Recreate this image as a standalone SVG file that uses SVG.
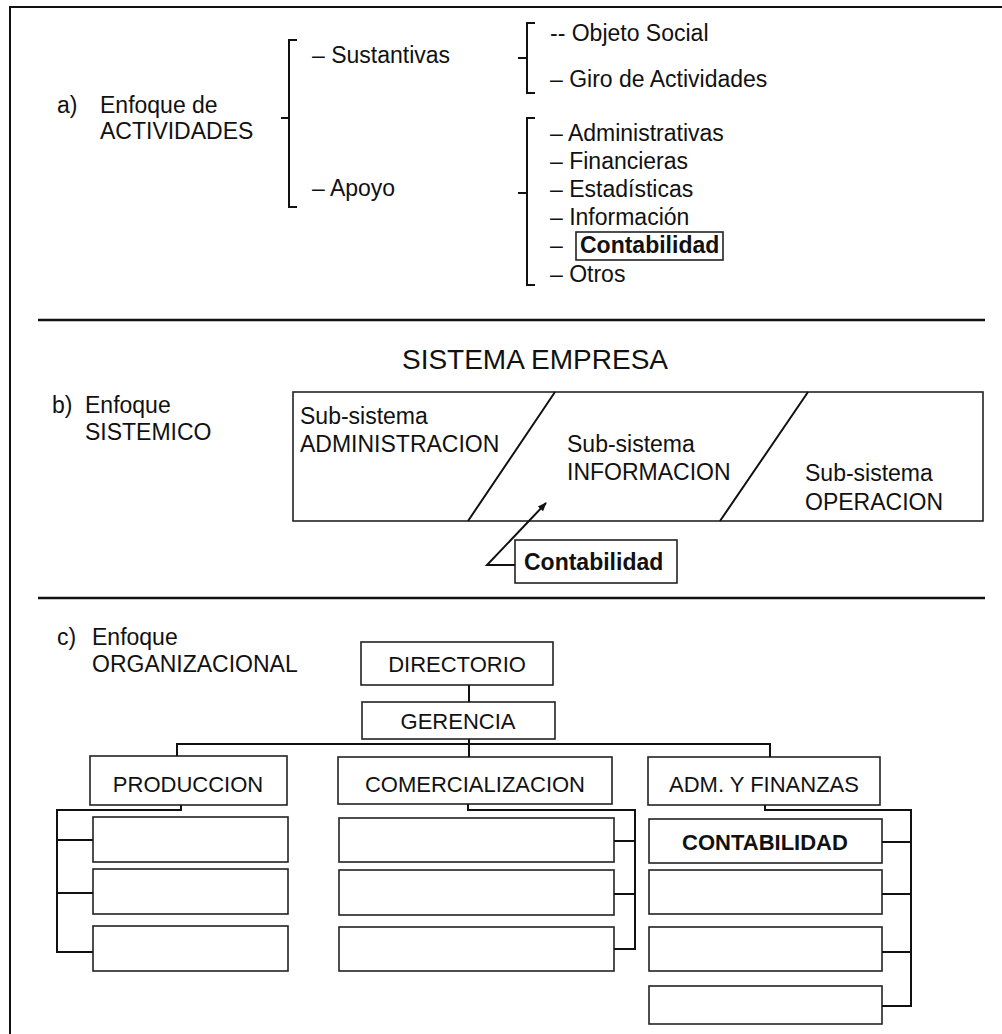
<svg xmlns="http://www.w3.org/2000/svg" width="1002" height="1034" viewBox="0 0 1002 1034">
<style>
text{font-family:"Liberation Sans",Arial,Helvetica,sans-serif;font-size:23px;fill:#111}
.b{font-weight:bold}
.big{font-size:28px}
.c{font-size:22px}
.box{fill:#fff;stroke:#222;stroke-width:1.6}
.ln{fill:none;stroke:#111;stroke-width:2}
.sep{fill:none;stroke:#111;stroke-width:2.6}
</style>
<defs>
<marker id="ah" viewBox="0 0 10 10" refX="9" refY="5" markerWidth="9" markerHeight="9" orient="auto" markerUnits="userSpaceOnUse"><path d="M0,1 L10,5 L0,9 Z" fill="#111"/></marker>
</defs>
<rect width="1002" height="1034" fill="#fff"/>
<g id="frame">
<path class="ln" d="M10,1034 V7 H1002" stroke-width="1.5"/>
<path class="sep" d="M38,320 H985"/>
<path class="sep" d="M38,598 H985"/>
</g>

<g id="section-a">
<text x="57" y="113">a)</text>
<text x="100" y="113">Enfoque de</text>
<text x="100" y="139">ACTIVIDADES</text>
</g>
<g id="node-sustantivas"><text x="312" y="63">– Sustantivas</text></g>
<g id="node-apoyo"><text x="312" y="196">– Apoyo</text></g>
<g id="node-objeto"><text x="550" y="41">-- Objeto Social</text></g>
<g id="node-giro"><text x="550" y="87">– Giro de Actividades</text></g>
<g id="node-admin"><text x="550" y="141">– Administrativas</text></g>
<g id="node-fin"><text x="550" y="169">– Financieras</text></g>
<g id="node-est"><text x="550" y="197">– Estadísticas</text></g>
<g id="node-info"><text x="550" y="225">– Información</text></g>
<g id="node-conta-a"><text x="550" y="253">–</text><rect class="box" x="576" y="232" width="147" height="28"/><text class="b" x="580" y="253" font-size="22">Contabilidad</text></g>
<g id="node-otros"><text x="550" y="282">– Otros</text></g>

<g id="section-b">
<text class="big" x="535" y="369" text-anchor="middle">SISTEMA EMPRESA</text>
<text x="52" y="413">b)</text>
<text x="85" y="413">Enfoque</text>
<text x="85" y="440">SISTEMICO</text>
</g>
<g id="node-sistema">
<rect class="box" x="293" y="392" width="690" height="129"/>
<path class="ln" d="M468,521 L555,392 M720,521 L808,392" stroke-width="1.6"/>
<text x="300" y="424">Sub-sistema</text>
<text x="300" y="452">ADMINISTRACION</text>
<text x="567" y="452">Sub-sistema</text>
<text x="567" y="480">INFORMACION</text>
<text x="805" y="481">Sub-sistema</text>
<text x="805" y="510">OPERACION</text>
</g>
<g id="node-conta-b"><rect class="box" x="515" y="540" width="162" height="43"/><text class="b" x="524" y="570">Contabilidad</text></g>

<g id="section-c">
<text x="57" y="645">c)</text>
<text x="92" y="645">Enfoque</text>
<text x="92" y="672" font-size="22.5">ORGANIZACIONAL</text>
</g>
<g id="node-directorio"><rect class="box" x="361" y="642" width="192" height="43"/><text class="c" x="457" y="672" text-anchor="middle">DIRECTORIO</text></g>
<g id="node-gerencia"><rect class="box" x="362" y="702" width="193" height="37"/><text class="c" x="458" y="729" text-anchor="middle">GERENCIA</text></g>
<g id="node-produccion"><rect class="box" x="90" y="756" width="197" height="49"/><text class="c" x="188" y="792" text-anchor="middle">PRODUCCION</text></g>
<g id="node-comercial"><rect class="box" x="338" y="757" width="274" height="47"/><text class="c" x="475" y="792" text-anchor="middle">COMERCIALIZACION</text></g>
<g id="node-adm"><rect class="box" x="648" y="757" width="232" height="48"/><text class="c" x="764" y="792" text-anchor="middle">ADM. Y FINANZAS</text></g>
<g id="node-p1"><rect class="box" x="93" y="817" width="195" height="45"/></g>
<g id="node-p2"><rect class="box" x="93" y="869" width="195" height="45"/></g>
<g id="node-p3"><rect class="box" x="93" y="926" width="195" height="45"/></g>
<g id="node-c1"><rect class="box" x="339" y="818" width="275" height="44"/></g>
<g id="node-c2"><rect class="box" x="339" y="870" width="275" height="45"/></g>
<g id="node-c3"><rect class="box" x="339" y="927" width="275" height="44"/></g>
<g id="node-contabilidad"><rect class="box" x="649" y="819" width="233" height="44"/><text class="b c" x="765" y="850" text-anchor="middle">CONTABILIDAD</text></g>
<g id="node-a2"><rect class="box" x="649" y="870" width="233" height="44"/></g>
<g id="node-a3"><rect class="box" x="649" y="927" width="233" height="44"/></g>
<g id="node-a4"><rect class="box" x="649" y="986" width="233" height="38"/></g>

<g id="connectors">
<path class="ln" d="M297,40 H289 V207 H297 M289,118 H281"/>
<path class="ln" d="M535,23 H527 V93 H535 M527,58 H518"/>
<path class="ln" d="M535,118 H527 V285 H535 M527,193 H518"/>
<path class="ln" d="M515,565 H487 L546,503" marker-end="url(#ah)" stroke-width="1.6"/>
<path class="ln" d="M469,685 V702 M469,739 V744 M177,756 V744 H770 V757 M469,744 V757"/>
<path class="ln" d="M181,805 V810 H57 V952 H93 M57,840 H93 M57,893 H93"/>
<path class="ln" d="M468,804 V810 H635 V949 H614 M635,841 H614 M635,894 H614"/>
<path class="ln" d="M765,805 V810 H911 V1006 H882 M911,842 H882 M911,894 H882 M911,952 H882"/>
</g>
</svg>
